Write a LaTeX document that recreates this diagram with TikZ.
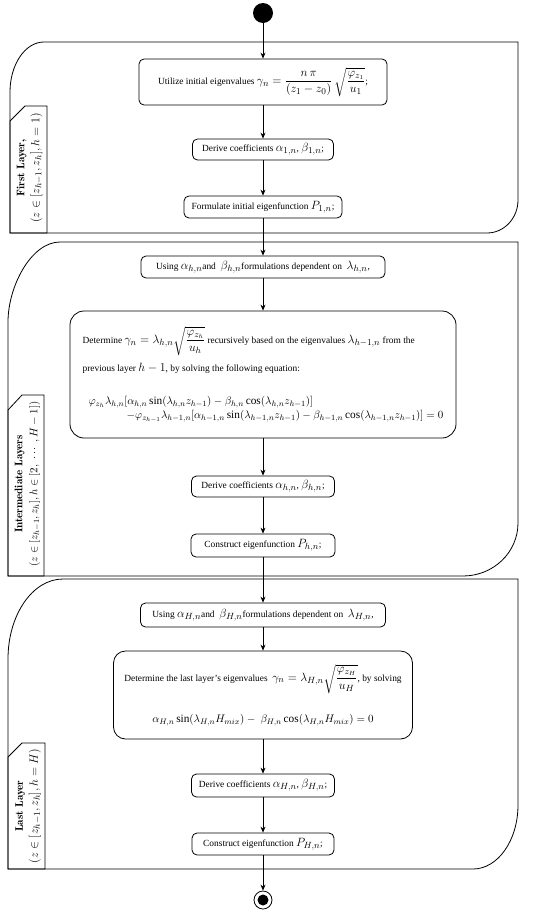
\documentclass[tikz,border=0pt]{standalone}
\usepackage{amsmath}
\usepackage{fontspec}
\setmainfont{Liberation Serif}
\usetikzlibrary{arrows.meta}
\newcommand{\mm}[2][12.5]{{\fontsize{#1}{11.5}\selectfont$#2$}}
\newcommand{\lmbold}[1]{{\fontfamily{lmr}\fontsize{11}{15}\selectfont\bfseries #1}}
\begin{document}
\begin{tikzpicture}[x=1pt,y=-1pt,
  act/.style={draw, rounded corners=5pt, line width=0.8pt, inner sep=2pt, align=center, font=\fontsize{9.4}{11.5}\selectfont},
  bigact/.style={act, rounded corners=14pt},
  flow/.style={-{Stealth[length=6pt,width=5pt]}, line width=0.7pt},
  frame/.style={draw, line width=0.8pt},
  lanebox/.style={draw, line width=0.8pt},
  lanetext/.style={rotate=90, align=center, inner sep=0pt, font=\fontsize{12.5}{15}\selectfont}
]
\useasboundingbox (0,0) rectangle (550,916);

% ---- layer frames
\draw[frame] (10,92) .. controls (10,64.4) and (25.2,42) .. (44,42) -- (518,42) -- (518,200)
  .. controls (518,218.2) and (504.1,233) .. (487,233) -- (10,233) -- cycle;
\draw[frame] (8,322) .. controls (8,286.2) and (31.3,242) .. (60,242) -- (518,242) -- (518,523)
  .. controls (518,552.3) and (493.4,576) .. (463,576) -- (8,576) -- cycle;
\draw[frame] (8,659) .. controls (8,614.8) and (32.6,579) .. (63,579) -- (518,579) -- (518,805)
  .. controls (518,840.3) and (497.9,869) .. (473,869) -- (8,869) -- cycle;

% ---- lane label boxes
\draw[lanebox] (10,121) -- (25,106) -- (47,106) -- (47,233) -- (10,233) -- cycle;
\draw[lanebox] (8,410) -- (22,395) -- (44,395) -- (44,576) -- (8,576) -- cycle;
\draw[lanebox] (8,757) -- (22,743) -- (45,743) -- (45,869) -- (8,869) -- cycle;

\node[lanetext] (lab1) at (29.5,168) {\lmbold{First Layer,}\\ $(z\in[z_{h-1},z_h],h=1)$};
\node[lanetext, font=\fontsize{11.3}{15}\selectfont] (lab2) at (27.5,484) {\lmbold{Intermediate Layers}\\ $(z\in[z_{h-1},z_h],h\in[2,\ \cdots\ ,H-1])$};
\node[lanetext] (lab3) at (28,806) {\lmbold{Last Layer}\\ $(z\in[z_{h-1},z_h],h=H)$};

% ---- start / end
\node[circle, fill=black, minimum size=20pt, inner sep=0pt] (start) at (263,13) {};
\node[circle, draw, line width=0.8pt, minimum size=18pt, inner sep=0pt] (end) at (263,900) {};
\node[circle, fill=black, minimum size=11pt, inner sep=0pt] (enddot) at (end.center) {};

% ---- activities
\node[act, minimum width=248pt, minimum height=46pt] (n1) at (263,82)
  {Utilize initial eigenvalues \mm{\gamma_n=\dfrac{n\,\pi}{(z_1-z_0)}\,\sqrt{\dfrac{\varphi_{z_1}}{u_1}}};};
\node[act, minimum width=141pt, minimum height=21pt] (n2) at (263,149.5)
  {Derive coefficients \mm{\alpha_{1,n}}, \mm{\beta_{1,n}};};
\node[act, minimum width=158pt, minimum height=22pt] (n3) at (263,207)
  {Formulate initial eigenfunction \mm{P_{1,n}};};

\node[act, minimum width=244pt, minimum height=22pt] (n4) at (263,267)
  {Using \mm{\alpha_{h,n}}and\ \ \mm{\beta_{h,n}}formulations dependent on\ \ \mm{\lambda_{h,n}},};
\node[bigact, minimum width=386pt, minimum height=127pt, align=left] (n5) at (263,374.5)
  {Determine \mm{\gamma_n=\lambda_{h,n}\sqrt{\dfrac{\varphi_{z_h}}{u_h}}} recursively based on the eigenvalues \mm{\lambda_{h-1,n}} from the\\[6pt]
   previous layer \mm{h-1}, by solving the following equation:\\[22pt]
   \hspace*{6pt}\mm[11.3]{\varphi_{z_h}\lambda_{h,n}[\alpha_{h,n}\sin(\lambda_{h,n}z_{h-1})-\beta_{h,n}\cos(\lambda_{h,n}z_{h-1})]}\\[1.5pt]
   \hspace*{44pt}\mm[11.3]{-\varphi_{z_{h-1}}\lambda_{h-1,n}[\alpha_{h-1,n}\sin(\lambda_{h-1,n}z_{h-1})-\beta_{h-1,n}\cos(\lambda_{h-1,n}z_{h-1})]=0}};
\node[act, minimum width=143pt, minimum height=21pt] (n6) at (263,486.5)
  {Derive coefficients \mm{\alpha_{h,n}}, \mm{\beta_{h,n}};};
\node[act, minimum width=144pt, minimum height=23pt] (n7) at (263,545.5)
  {Construct eigenfunction \mm{P_{h,n}};};

\node[act, minimum width=245pt, minimum height=24pt] (n8) at (263,615)
  {Using \mm{\alpha_{H,n}}and\ \ \mm{\beta_{H,n}}formulations dependent on\ \ \mm{\lambda_{H,n}},};
\node[bigact, rounded corners=12pt, minimum width=299pt, minimum height=88pt] (n9) at (263,695)
  {Determine the last layer's eigenvalues\ \ \mm{\gamma_n=\lambda_{H,n}\sqrt{\dfrac{\varphi_{z_H}}{u_H}}}, by solving\\[20pt]
   \mm[11.3]{\alpha_{H,n}\sin(\lambda_{H,n}H_{mix})-\ \beta_{H,n}\cos(\lambda_{H,n}H_{mix})=0}};
\node[act, minimum width=143pt, minimum height=23pt] (n10) at (263,785.5)
  {Derive coefficients \mm{\alpha_{H,n}}, \mm{\beta_{H,n}};};
\node[act, minimum width=142pt, minimum height=22pt] (n11) at (263,844)
  {Construct eigenfunction \mm{P_{H,n}};};

% ---- flow
\draw[flow] (start) -- (n1);
\draw[flow] (n1) -- (n2);
\draw[flow] (n2) -- (n3);
\draw[flow] (n3) -- (n4);
\draw[flow] (n4) -- (n5);
\draw[flow] (n5) -- (n6);
\draw[flow] (n6) -- (n7);
\draw[flow] (n7) -- (n8);
\draw[flow] (n8) -- (n9);
\draw[flow] (n9) -- (n10);
\draw[flow] (n10) -- (n11);
\draw[flow] (n11) -- (end);
\end{tikzpicture}
\end{document}
